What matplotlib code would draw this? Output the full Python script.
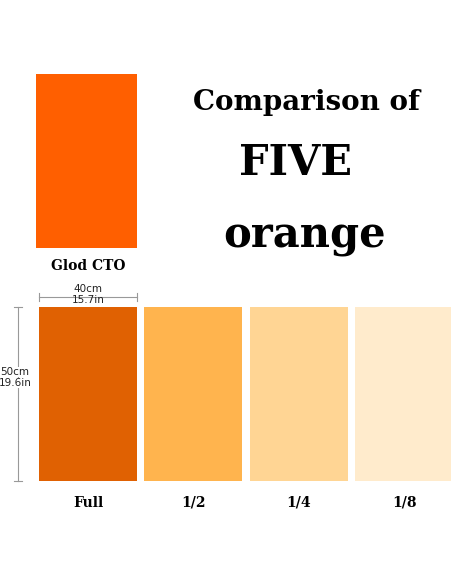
import matplotlib.pyplot as plt

# swatches
labels = ['Full', '1/2', '1/4', '1/8']
colors = ['#E06102', '#FFB44E', '#FFD594', '#FFEBCC']
top_label = 'Glod CTO'
top_color = '#FF5F00'
title_lines = ['Comparison of', 'FIVE', 'orange']

W, H = 452, 584
fig = plt.figure(figsize=(W / 100, H / 100), dpi=100)
ax = fig.add_axes([0, 0, 1, 1])
ax.set_xlim(0, W)
ax.set_ylim(H, 0)
ax.axis('off')

serif = 'DejaVu Serif'

# big top swatch
ax.bar(86.5, 174, width=101, bottom=74, color=top_color)
ax.text(88, 266, top_label, ha='center', va='center', fontsize=10,
        fontweight='bold', family=serif)

# title
ax.text(307, 103, title_lines[0], ha='center', va='center', fontsize=20,
        fontweight='bold', family=serif)
ax.text(296, 163, title_lines[1], ha='center', va='center', fontsize=30,
        fontweight='bold', family=serif)
ax.text(305, 236, title_lines[2], ha='center', va='center', fontsize=30,
        fontweight='bold', family=serif)

# row of swatches
step = 105.5
x0 = 88
for i, (lab, c) in enumerate(zip(labels, colors)):
    x = x0 + i * step
    ax.bar(x, 174, width=98, bottom=307, color=c)
    ax.text(x, 503, lab, ha='center', va='center', fontsize=10,
            fontweight='bold', family=serif)

# dimension marks
gray = '#999999'
ax.plot([39, 137], [297, 297], color=gray, lw=0.8)
for xx in (39, 137):
    ax.plot([xx, xx], [293, 301], color=gray, lw=0.8)
ax.text(88, 289, '40cm', ha='center', va='center', fontsize=7.5, color='#222222')
ax.text(88, 300, '15.7in', ha='center', va='center', fontsize=7.5, color='#222222')

ax.plot([18, 18], [307, 481], color=gray, lw=0.8)
for yy in (307, 481):
    ax.plot([14, 22], [yy, yy], color=gray, lw=0.8)
ax.text(15, 372, '50cm', ha='center', va='center', fontsize=7.5, color='#222222',
        bbox=dict(facecolor='white', edgecolor='none', pad=0))
ax.text(15, 383, '19.6in', ha='center', va='center', fontsize=7.5, color='#222222',
        bbox=dict(facecolor='white', edgecolor='none', pad=0))

fig.savefig('out.png', dpi=100, facecolor='white')
